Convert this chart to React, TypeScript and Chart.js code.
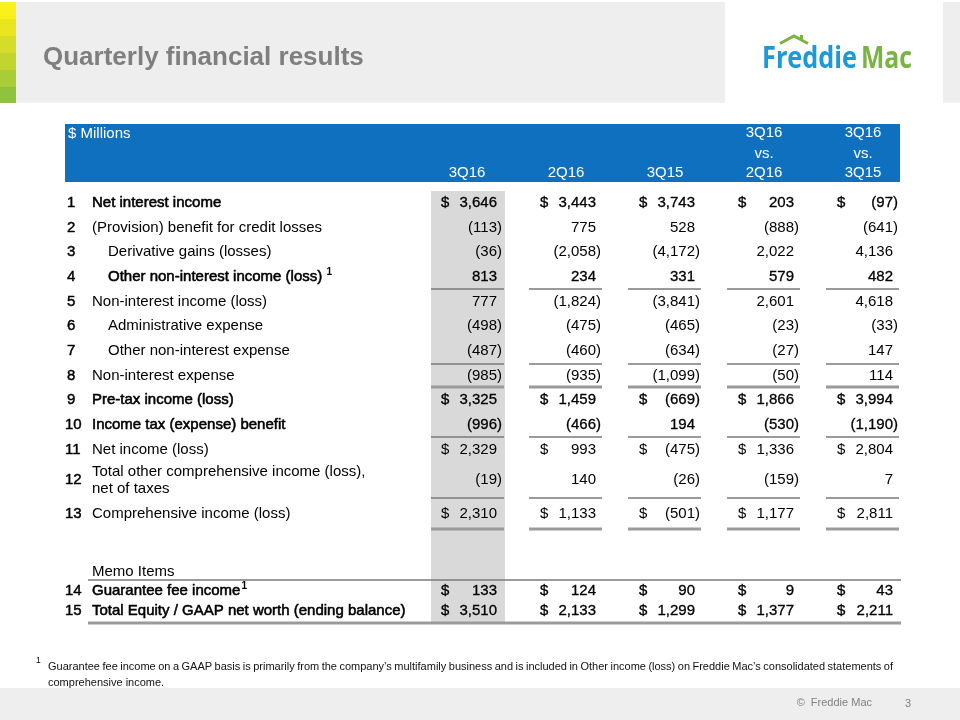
import React, { useEffect, useRef } from "react";
import { Chart, registerables } from "chart.js";

Chart.register(...registerables);

const FONT = '"Liberation Sans", Arial, Helvetica, sans-serif';

// ---------- data ----------
const ROW_NUMBERS = ["1", "2", "3", "4", "5", "6", "7", "8", "9", "10", "11", "12", "13", "14", "15"];
const ROW_LABELS = [
  "Net interest income",
  "(Provision) benefit for credit losses",
  "Derivative gains (losses)",
  "Other non-interest income (loss) ",
  "Non-interest income (loss)",
  "Administrative expense",
  "Other non-interest expense",
  "Non-interest expense",
  "Pre-tax income (loss)",
  "Income tax (expense) benefit",
  "Net income (loss)",
  "Total other comprehensive income (loss),|net of taxes",
  "Comprehensive income (loss)",
  "Guarantee fee income",
  "Total Equity / GAAP net worth (ending balance)",
];
const ROW_NOTE_MARKS = ["", "", "", "1", "", "", "", "", "", "", "", "", "", "1", ""];
const BOLD_ROWS = [1, 4, 9, 10, 14, 15];
const INDENTED_ROWS = [3, 4, 6, 7];
const DOLLAR_ROWS = [1, 9, 11, 13, 14, 15];
const MEMO_LABEL = "Memo Items";
const UNIT_LABEL = "$ Millions";

const COLUMN_HEADERS = ["3Q16", "2Q16", "3Q15", "3Q16|vs.|2Q16", "3Q16|vs.|3Q15"];

const V_3Q16 = [3646, -113, -36, 813, 777, -498, -487, -985, 3325, -996, 2329, -19, 2310, 133, 3510];
const V_2Q16 = [3443, 775, -2058, 234, -1824, -475, -460, -935, 1459, -466, 993, 140, 1133, 124, 2133];
const V_3Q15 = [3743, 528, -4172, 331, -3841, -465, -634, -1099, -669, 194, -475, -26, -501, 90, 1299];
const V_VS_2Q16 = [203, -888, 2022, 579, 2601, -23, -27, -50, 1866, -530, 1336, -159, 1177, 9, 1377];
const V_VS_3Q15 = [-97, -641, 4136, 482, 4618, -33, 147, 114, 3994, -1190, 2804, 7, 2811, 43, 2211];
const SERIES = [V_3Q16, V_2Q16, V_3Q15, V_VS_2Q16, V_VS_3Q15];

const TITLE = "Quarterly financial results";
const FOOTNOTE_LINE1 =
  "Guarantee fee income on a GAAP basis is primarily from the company\u2019s multifamily business and is included in Other income (loss) on Freddie Mac\u2019s consolidated statements of";
const FOOTNOTE_LINE2 = "comprehensive income.";
const COPYRIGHT = "\u00A9  Freddie Mac";
const PAGE_NO = "3";

// ---------- layout (row slots, in row units) ----------
const ROW_ADVANCE = [0, 1, 1, 1, 1, 1, 1, 1, 1, 1, 1, 1.25, 1.35, 3.15, 0.8];
const ROW_SLOTS: number[] = [];
ROW_ADVANCE.reduce((acc, a) => {
  const s = acc + a;
  ROW_SLOTS.push(s);
  return s;
}, 0);
const MEMO_SLOT = ROW_SLOTS[13] - 0.8;
const RULES: { row: number; kind: "single" | "double"; off: number }[] = [
  { row: 3, kind: "single", off: 0.5 },
  { row: 6, kind: "single", off: 0.53 },
  { row: 7, kind: "double", off: 0.47 },
  { row: 9, kind: "single", off: 0.5 },
  { row: 11, kind: "single", off: 0.7 },
  { row: 12, kind: "double", off: 0.62 },
];

function setFont(ctx: CanvasRenderingContext2D, size: number, weight = "normal") {
  ctx.font = `${weight} ${size}px ${FONT}`;
}

function txt(
  ctx: CanvasRenderingContext2D,
  s: string,
  x: number,
  y: number,
  align: CanvasTextAlign,
  color: string,
  bold: number = 0
) {
  ctx.textAlign = align;
  ctx.textBaseline = "middle";
  ctx.fillStyle = color;
  ctx.fillText(s, x, y);
  if (bold > 0) {
    ctx.strokeStyle = color;
    ctx.lineWidth = bold;
    ctx.lineJoin = "round";
    ctx.strokeText(s, x, y);
  }
}

function hRule(ctx: CanvasRenderingContext2D, x1: number, x2: number, y: number, kind: "single" | "double") {
  if (kind === "single") {
    ctx.fillStyle = "#7a7a7a";
    ctx.fillRect(x1, Math.round(y) - 0.75, x2 - x1, 1.5);
  } else {
    ctx.fillStyle = "#9a9a9a";
    ctx.fillRect(x1, Math.round(y) - 1.5, x2 - x1, 3);
  }
}

const slidePlugin = {
  id: "slide",
  beforeDraw(chart: any) {
    const ctx: CanvasRenderingContext2D = chart.ctx;
    const xs = chart.scales.x;
    ctx.save();
    ctx.fillStyle = "#ffffff";
    ctx.fillRect(0, 0, 960, 720);
    ctx.fillStyle = "#eeeeee";
    ctx.fillRect(16, 2, 709, 101);
    ctx.fillRect(943, 2, 17, 101);
    const stripes = ["#fbef1c", "#ebe520", "#d6dd28", "#c2d52f", "#aacc36", "#8fc33e"];
    stripes.forEach((c, i) => {
      ctx.fillStyle = c;
      ctx.fillRect(0, 2 + i * 17, 16, i === 5 ? 16 : 17);
    });
    setFont(ctx, 26, "bold");
    txt(ctx, TITLE, 43, 58, "left", "#7f7f7f");
    // logo
    ctx.font = `700 30px "Open Sans", ${FONT}`;
    ctx.textBaseline = "alphabetic";
    ctx.textAlign = "left";
    const drawFit = (s: string, x: number, y: number, w: number, color: string) => {
      const m = ctx.measureText(s).width;
      ctx.save();
      ctx.translate(x, y);
      ctx.scale(w / m, 1);
      ctx.fillStyle = color;
      ctx.fillText(s, 0, 0);
      ctx.restore();
    };
    drawFit("Freddie", 762, 68, 95, "#1b9ad6");
    drawFit("Mac", 861, 68, 51, "#7ab342");
    ctx.strokeStyle = "#7ab342";
    ctx.lineWidth = 3;
    ctx.lineCap = "butt";
    ctx.lineJoin = "miter";
    ctx.beginPath();
    ctx.moveTo(780, 43.5);
    ctx.lineTo(794, 36);
    ctx.lineTo(808, 43.5);
    ctx.stroke();
    ctx.fillStyle = "#7ab342";
    ctx.fillRect(800, 35, 3, 5);
    // blue header
    ctx.fillStyle = "#0f70c0";
    ctx.fillRect(65, 124, 835, 58);
    // shaded current-quarter column
    const c0 = xs.getPixelForValue(0);
    ctx.fillStyle = "#d9d9d9";
    ctx.fillRect(c0 - 71, 191, 74, 432);
    // bottom band
    ctx.fillStyle = "#eeeeee";
    ctx.fillRect(0, 688, 960, 32);
    ctx.restore();
  },
  afterDatasetsDraw(chart: any) {
    const ctx: CanvasRenderingContext2D = chart.ctx;
    const xs = chart.scales.x;
    const ys = chart.scales.y;
    ctx.save();
    setFont(ctx, 15);
    txt(ctx, UNIT_LABEL, 68, 134, "left", "#ffffff");
    const headerYs = [133, 154, 173];
    COLUMN_HEADERS.forEach((h, i) => {
      const cx = xs.getPixelForValue(i) - 35;
      const lines = h.split("|");
      lines.forEach((ln, k) => {
        txt(ctx, ln, cx, headerYs[headerYs.length - lines.length + k], "center", "#ffffff");
      });
    });
    ROW_LABELS.forEach((lab, i) => {
      const y = ys.getPixelForValue(ROW_SLOTS[i]);
      const bold = BOLD_ROWS.includes(i + 1) ? 0.55 : 0;
      setFont(ctx, 15);
      txt(ctx, ROW_NUMBERS[i], ROW_NUMBERS[i].length > 1 ? 65 : 67, y, "left", "#000000", 0.45);
      const lx = INDENTED_ROWS.includes(i + 1) ? 108 : 92;
      const parts = lab.split("|");
      if (parts.length > 1) {
        txt(ctx, parts[0], lx, y - 8.5, "left", "#000000", bold);
        txt(ctx, parts[1], lx, y + 8.5, "left", "#000000", bold);
      } else {
        txt(ctx, lab, lx, y, "left", "#000000", bold);
        if (ROW_NOTE_MARKS[i]) {
          const w = ctx.measureText(lab).width;
          setFont(ctx, 10, "bold");
          txt(ctx, ROW_NOTE_MARKS[i], lx + w + (i === 3 ? 0 : 1), y - 5, "left", "#000000");
        }
      }
    });
    setFont(ctx, 15);
    txt(ctx, MEMO_LABEL, 92, ys.getPixelForValue(MEMO_SLOT), "left", "#000000");

    setFont(ctx, 15);
    const parenW = ctx.measureText(")").width;
    chart.data.datasets.forEach((ds: any, di: number) => {
      const meta = chart.getDatasetMeta(di);
      meta.data.forEach((el: any, ri: number) => {
        const v = ds.values[ri];
        const bold = BOLD_ROWS.includes(ri + 1) ? 0.3 : 0;
        const s = Math.abs(v).toLocaleString("en-US");
        setFont(ctx, 15);
        if (v < 0) txt(ctx, `(${s})`, el.x, el.y, "right", "#000000", bold);
        else txt(ctx, s, el.x - parenW, el.y, "right", "#000000", bold);
        if (DOLLAR_ROWS.includes(ri + 1)) txt(ctx, "$", el.x - 61, el.y, "left", "#000000", bold);
      });
    });

    RULES.forEach((r) => {
      const y = ys.getPixelForValue(ROW_SLOTS[r.row] + r.off);
      SERIES.forEach((_, ci) => {
        const px = xs.getPixelForValue(ci);
        if (ci === 0) hRule(ctx, px - 71, px + 2, y, r.kind);
        else hRule(ctx, px - 72, px + 1, y, r.kind);
      });
    });
    const xEnd = xs.getPixelForValue(SERIES.length - 1) + 3;
    hRule(ctx, 88, xEnd, ys.getPixelForValue(ROW_SLOTS[13] - 0.45), "single");
    hRule(ctx, 88, xEnd, ys.getPixelForValue(ROW_SLOTS[14] + 0.5), "double");

    setFont(ctx, 8.5);
    txt(ctx, "1", 36, 661, "left", "#000000");
    setFont(ctx, 11);
    const words = FOOTNOTE_LINE1.split(" ");
    const ww = words.map((w) => ctx.measureText(w).width);
    const total = ww.reduce((a, b) => a + b, 0);
    const gap = (893 - 48 - total) / (words.length - 1);
    let x = 48;
    words.forEach((w, k) => {
      txt(ctx, w, x, 667, "left", "#111111");
      x += ww[k] + gap;
    });
    txt(ctx, FOOTNOTE_LINE2, 48, 683, "left", "#111111");
    txt(ctx, COPYRIGHT, 872, 703, "right", "#808080");
    txt(ctx, PAGE_NO, 911, 704, "right", "#808080");
    ctx.restore();
  },
};

export default function App() {
  const ref = useRef<HTMLCanvasElement | null>(null);
  useEffect(() => {
    if (!ref.current) return;
    const chart = new Chart(ref.current, {
      type: "scatter",
      data: {
        datasets: SERIES.map((vals, ci) => ({
          label: COLUMN_HEADERS[ci],
          values: vals,
          data: vals.map((_, ri) => ({ x: ci, y: ROW_SLOTS[ri] })),
          pointRadius: 0,
          pointHoverRadius: 0,
          showLine: false,
        })) as any,
      },
      options: {
        responsive: false,
        animation: false,
        events: [],
        layout: { padding: { left: 502, right: 62, top: 203, bottom: 109 } },
        scales: {
          x: { type: "linear", min: 0, max: SERIES.length - 1, display: false },
          y: { type: "linear", min: 0, max: ROW_SLOTS[ROW_SLOTS.length - 1], reverse: true, display: false },
        },
        plugins: { legend: { display: false }, tooltip: { enabled: false } },
      },
      plugins: [slidePlugin as any],
    });
    return () => chart.destroy();
  }, []);
  return (
    <div style={{ position: "fixed", left: 0, top: 0, width: 960, height: 720, background: "#fff" }}>
      <canvas ref={ref} width={960} height={720} style={{ display: "block" }} />
    </div>
  );
}
